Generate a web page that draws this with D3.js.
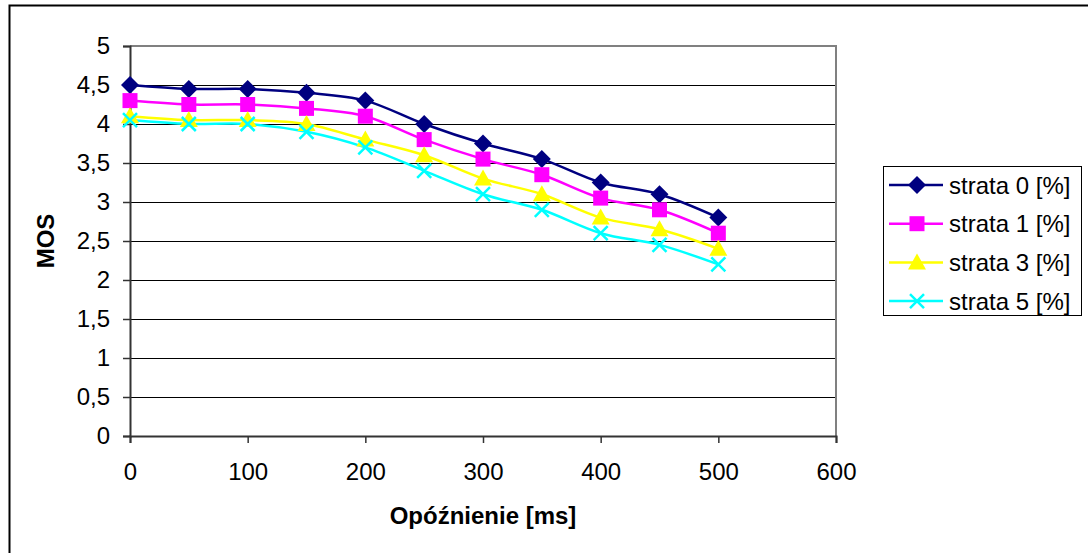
<!DOCTYPE html>
<html>
<head>
<meta charset="utf-8">
<script src="https://cdn.jsdelivr.net/npm/d3@7"></script>
<style>
  body { margin: 0; background: #fff; }
  text { font-family: Arial, "Liberation Sans", sans-serif; }
</style>
</head>
<body>
<script>
// data
var delays = [0, 50, 100, 150, 200, 250, 300, 350, 400, 450, 500];
var strata0 = [4.5, 4.45, 4.45, 4.4, 4.3, 4.0, 3.75, 3.55, 3.25, 3.1, 2.8];
var strata1 = [4.3, 4.25, 4.25, 4.2, 4.1, 3.8, 3.55, 3.35, 3.05, 2.9, 2.6];
var strata3 = [4.1, 4.05, 4.05, 4.0, 3.8, 3.6, 3.3, 3.1, 2.8, 2.65, 2.4];
var strata5 = [4.05, 4.0, 4.0, 3.9, 3.7, 3.4, 3.1, 2.9, 2.6, 2.45, 2.2];
var seriesNames = ["strata 0 [%]", "strata 1 [%]", "strata 3 [%]", "strata 5 [%]"];
var xTicks = [0, 100, 200, 300, 400, 500, 600];
var yTicks = [0, 0.5, 1, 1.5, 2, 2.5, 3, 3.5, 4, 4.5, 5];

var width = 1088,
	height = 553;

var series = [
	{name: seriesNames[0], values: strata0, color: "#000080", shape: "diamond"},
	{name: seriesNames[1], values: strata1, color: "#ff00ff", shape: "square"},
	{name: seriesNames[2], values: strata3, color: "#ffff00", shape: "triangle"},
	{name: seriesNames[3], values: strata5, color: "#00ffff", shape: "cross"}
];

var svg = d3.select("body").append("svg")
	.attr("width", width)
	.attr("height", height)
	.style("display", "block");

// chart area border (only top and left visible)
svg.append("path")
	.attr("d", "M9.5," + height + "V5.5H" + width)
	.attr("fill", "none")
	.attr("stroke", "#000")
	.attr("stroke-width", 2);

var x = d3.scaleLinear().domain([0, 600]).range([130, 836]);
var y = d3.scaleLinear().domain([0, 5]).range([436, 46]);

// gridlines
svg.append("g")
	.selectAll("line")
	.data(yTicks.filter(function(d) { return d > 0 && d < 5; }))
	.enter().append("line")
	.attr("x1", x(0))
	.attr("x2", x(600))
	.attr("y1", function(d) { return Math.round(y(d)) + 0.5; })
	.attr("y2", function(d) { return Math.round(y(d)) + 0.5; })
	.attr("stroke", "#000")
	.attr("stroke-width", 1);

// plot area border top/right
svg.append("path")
	.attr("d", "M" + x(0) + "," + y(5) + "H" + x(600) + "V" + y(0))
	.attr("fill", "none")
	.attr("stroke", "#808080")
	.attr("stroke-width", 2);

var xAxis = d3.axisBottom(x)
	.tickValues(xTicks)
	.tickSize(7)
	.tickPadding(20)
	.tickFormat(d3.format("d"));

var yAxis = d3.axisLeft(y)
	.tickValues(yTicks)
	.tickSize(7)
	.tickPadding(13)
	.tickFormat(function(d) { return String(d).replace(".", ","); });

var gx = svg.append("g")
	.attr("transform", "translate(0," + y(0) + ")")
	.call(xAxis);

var gy = svg.append("g")
	.attr("transform", "translate(" + x(0) + ",0)")
	.call(yAxis);

[gx, gy].forEach(function(g) {
	g.select(".domain").attr("stroke", "#333").attr("stroke-width", 2);
	g.selectAll(".tick line").attr("stroke", "#333").attr("stroke-width", 1.5);
	g.selectAll(".tick text")
		.attr("font-size", 24)
		.attr("font-family", "Arial, 'Liberation Sans', sans-serif")
		.attr("fill", "#000");
});

// axis titles
svg.append("text")
	.attr("x", (x(0) + x(600)) / 2)
	.attr("y", 524)
	.attr("text-anchor", "middle")
	.attr("font-size", 24)
	.attr("font-weight", "bold")
	.text("Opóźnienie [ms]");

svg.append("text")
	.attr("transform", "translate(54," + (y(0) + y(5)) / 2 + ") rotate(-90)")
	.attr("text-anchor", "middle")
	.attr("font-size", 24)
	.attr("font-weight", "bold")
	.text("MOS");

function marker(sel, d) {
	if (d.shape === "diamond") {
		sel.append("path").attr("d", "M0,-9L9,0L0,9L-9,0Z").attr("fill", d.color);
	} else if (d.shape === "square") {
		sel.append("rect").attr("x", -7.5).attr("y", -7.5).attr("width", 15).attr("height", 15).attr("fill", d.color);
	} else if (d.shape === "triangle") {
		sel.append("path").attr("d", "M0,-9L9,7L-9,7Z").attr("fill", d.color);
	} else {
		sel.append("path").attr("d", "M-7,-7L7,7M-7,7L7,-7")
			.attr("stroke", d.color).attr("stroke-width", 2.5).attr("fill", "none");
	}
}

var line = d3.line()
	.x(function(d, i) { return x(delays[i]); })
	.y(function(d) { return y(d); })
	.curve(d3.curveCatmullRom.alpha(0));

series.forEach(function(s) {
	svg.append("path")
		.datum(s.values)
		.attr("d", line)
		.attr("fill", "none")
		.attr("stroke", s.color)
		.attr("stroke-width", 2.5);
});

series.forEach(function(s) {
	s.values.forEach(function(v, i) {
		var g = svg.append("g").attr("transform", "translate(" + x(delays[i]) + "," + y(v) + ")");
		marker(g, s);
	});
});

// legend
var legend = svg.append("g");
legend.append("rect")
	.attr("x", 883.5).attr("y", 166.5)
	.attr("width", 198).attr("height", 149)
	.attr("fill", "#fff")
	.attr("stroke", "#000")
	.attr("stroke-width", 1);

series.forEach(function(s, i) {
	var yy = 185 + i * 38.7;
	var g = legend.append("g").attr("transform", "translate(0," + yy + ")");
	g.append("line")
		.attr("x1", 889).attr("x2", 943)
		.attr("stroke", s.color).attr("stroke-width", 2.5);
	var m = g.append("g").attr("transform", "translate(917,0)");
	marker(m, s);
	g.append("text")
		.attr("x", 949)
		.attr("y", 8.5)
		.attr("font-size", 24)
		.text(s.name);
});
</script>
</body>
</html>
